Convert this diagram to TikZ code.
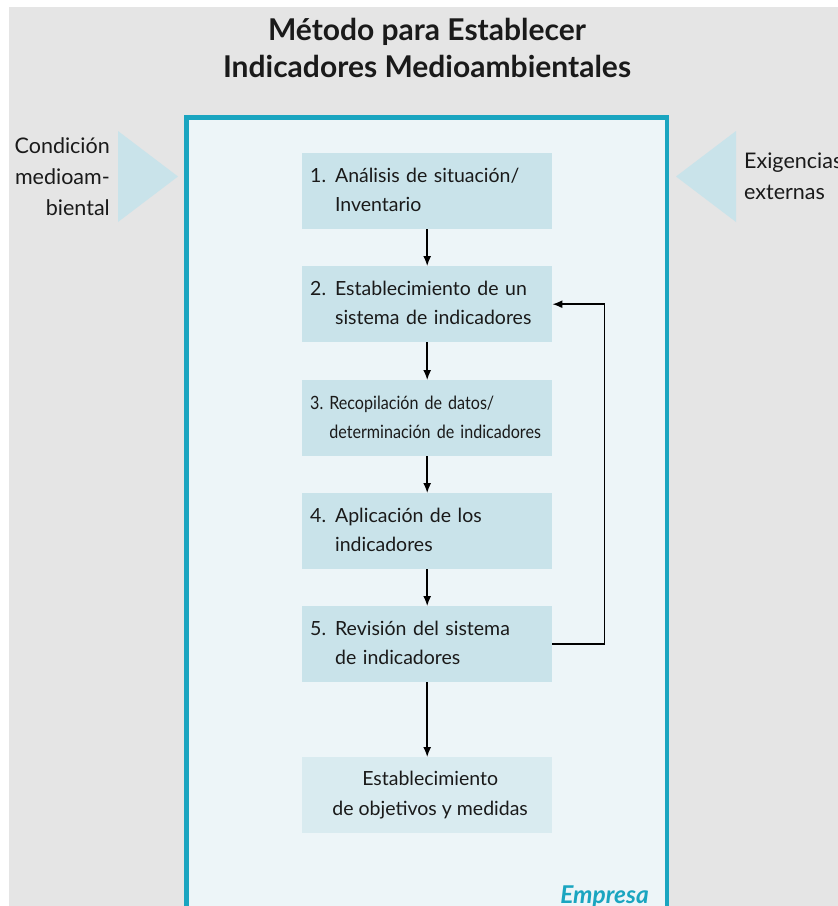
\documentclass[tikz,border=0pt]{standalone}
\usepackage{fontspec}
\setmainfont{Lato}
\newfontfamily\condfont[FakeStretch=0.88]{Lato}
\usetikzlibrary{arrows.meta}
\definecolor{bggray}{HTML}{E5E5E5}
\definecolor{framecol}{HTML}{1AA5C0}
\definecolor{innercol}{HTML}{EDF5F8}
\definecolor{boxcol}{HTML}{C9E3EA}
\definecolor{boxlight}{HTML}{D9EBF0}
\definecolor{txt}{HTML}{1A1A1A}
\tikzset{
  stepbox/.style={fill=boxcol, draw=none, minimum width=250pt, minimum height=76pt,
    inner xsep=8pt, inner ysep=0pt, text width=234pt, align=left, anchor=north west,
    text=txt, font=\fontsize{19.5}{29}\selectfont},
  endbox/.style={fill=boxlight, draw=none, minimum width=250pt, minimum height=76pt,
    inner sep=0pt, align=center, anchor=north west, text=txt, font=\fontsize{19.5}{30}\selectfont},
  arr/.style={line width=1.5pt, -{Latex[length=10pt,width=8pt]}},
  sidetxt/.style={font=\fontsize{21.5}{31}\selectfont, inner sep=0pt, text=txt},
  tri/.style={fill=boxcol},
}
\begin{document}
\begin{tikzpicture}[x=1pt,y=-1pt]
\useasboundingbox (0,0) rectangle (838,906);
\clip (0,0) rectangle (838,906);
\fill[white] (0,0) rectangle (838,906);
\fill[bggray] (9,7) rectangle (838,906);
\draw[draw=framecol, fill=innercol, line width=4.5pt] (186.3,117.5) rectangle (667,940);
% triangles
\fill[tri] (118,131) -- (178,176.5) -- (118,222) -- cycle;
\fill[tri] (736,131) -- (676,176.5) -- (736,222) -- cycle;
% title
\node[font=\bfseries\fontsize{30}{37}\selectfont, align=center, inner sep=0pt, text=txt] (title) at (427,48)
  {Método para Establecer\\Indicadores Medioambientales};
% side labels
\node[sidetxt, align=right, anchor=east] (cond) at (110,177) {Condición\\medioam-\\biental};
\node[sidetxt, align=left, anchor=west] (exig) at (744,176) {Exigencias\\externas};
% boxes
\node[stepbox] (b1) at (302,153) {\begin{tabular}{@{}l@{\hspace{9pt}}l@{}}1. & Análisis de situación/\\ & Inventario\end{tabular}};
\node[stepbox] (b2) at (302,266) {\begin{tabular}{@{}l@{\hspace{9pt}}l@{}}2. & Establecimiento de un\\ & sistema de indicadores\end{tabular}};
\node[stepbox, font=\condfont\fontsize{18.3}{29}\selectfont] (b3) at (302,380) {\begin{tabular}{@{}l@{\hspace{6pt}}l@{}}3. & Recopilación de datos/\\ & determinación de indicadores\end{tabular}};
\node[stepbox] (b4) at (302,493) {\begin{tabular}{@{}l@{\hspace{9pt}}l@{}}4. & Aplicación de los\\ & indicadores\end{tabular}};
\node[stepbox] (b5) at (302,606) {\begin{tabular}{@{}l@{\hspace{9pt}}l@{}}5. & Revisión del sistema\\ & de indicadores\end{tabular}};
\node[endbox] (b6) at (302,757) {\hspace*{6pt}Establecimiento\\\hspace*{6pt}de objetivos y medidas};
% arrows
\draw[arr] (b1) -- (b2);
\draw[arr] (b2) -- (b3);
\draw[arr] (b3) -- (b4);
\draw[arr] (b4) -- (b5);
\draw[arr] (b5) -- (b6);
\draw[arr] (b5.east) -- ++(52,0) |- (b2.east);
% company label
\node[font=\bfseries\itshape\fontsize{24.5}{26}\selectfont, text=framecol, anchor=base east, inner sep=0pt] (emp) at (649,903) {Empresa};
\end{tikzpicture}
\end{document}
